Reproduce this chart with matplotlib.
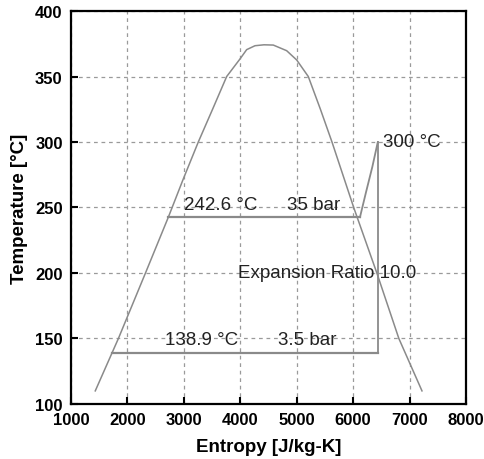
import numpy as np
import matplotlib.pyplot as plt

plt.rcParams["font.family"] = ["Liberation Sans", "DejaVu Sans"]

# saturation dome (entropy J/kg-K, temperature degC)
dome_s = [1430, 1840, 2320, 2725, 2990, 3256, 3511, 3759, 3995, 4113,
          4261, 4420, 4585, 4822, 5000, 5205, 5420, 5625, 6010, 6420,
          6810, 7220]
dome_T = [110, 150, 200, 242.6, 271.8, 300, 325.2, 350, 363.4, 370.5,
          373.5, 374.2, 374, 369.7, 362.6, 350, 325, 300, 250, 200,
          150, 110]

# cycle states
T_high = 242.6
T_low = 138.9
T_max = 300.0
s_high_liq = 2725
s_high_vap = 6121
s_low_liq = 1732
s_turbine = 6437

# superheating path between vapour line and turbine inlet
sh_s = [s_high_vap, 6230, 6340, s_turbine]
sh_T = [T_high, 262, 281, T_max]

line_color = "#8a8a8a"

fig = plt.figure(figsize=(4.84, 4.60), dpi=100)
ax = fig.add_axes([0.1467, 0.1196, 0.8161, 0.8543])

ax.plot(dome_s, dome_T, color=line_color, lw=1.1)
ax.plot([s_high_liq, s_high_vap], [T_high, T_high], color=line_color, lw=1.6)
ax.plot(sh_s, sh_T, color=line_color, lw=1.3)
ax.plot([s_turbine, s_turbine], [T_max, T_low], color=line_color, lw=1.3)
ax.plot([s_low_liq, s_turbine], [T_low, T_low], color=line_color, lw=1.6)

txt = dict(fontsize=13.5, color="#222222", va="baseline", ha="left")
ax.text(3003, 248.8, f"{T_high} °C", **txt)
ax.text(4822, 248.8, "35 bar", **txt)
ax.text(6523, 297.2, f"{T_max:.0f} °C", **txt)
ax.text(3965, 197.2, "Expansion Ratio 10.0", **txt)
ax.text(2666, 145.8, f"{T_low} °C", **txt)
ax.text(4674, 145.8, "3.5 bar", **txt)

ax.set_xlim(1000, 8000)
ax.set_ylim(100, 400)
ax.set_xticks(np.arange(1000, 8001, 1000))
ax.set_yticks(np.arange(100, 401, 50))
ax.grid(True, color="#9a9a9a", ls=(0, (3, 3)), lw=0.9)
ax.tick_params(direction="in", length=5, width=1.5, labelsize=12, pad=6)
for lab in ax.get_xticklabels() + ax.get_yticklabels():
    lab.set_fontweight("bold")
for sp in ax.spines.values():
    sp.set_linewidth(1.6)

ax.set_xlabel("Entropy [J/kg-K]", fontsize=13.5, fontweight="bold", labelpad=8)
ax.set_ylabel("Temperature [°C]", fontsize=13.5, fontweight="bold", labelpad=5)

fig.savefig("out.png", dpi=100)
